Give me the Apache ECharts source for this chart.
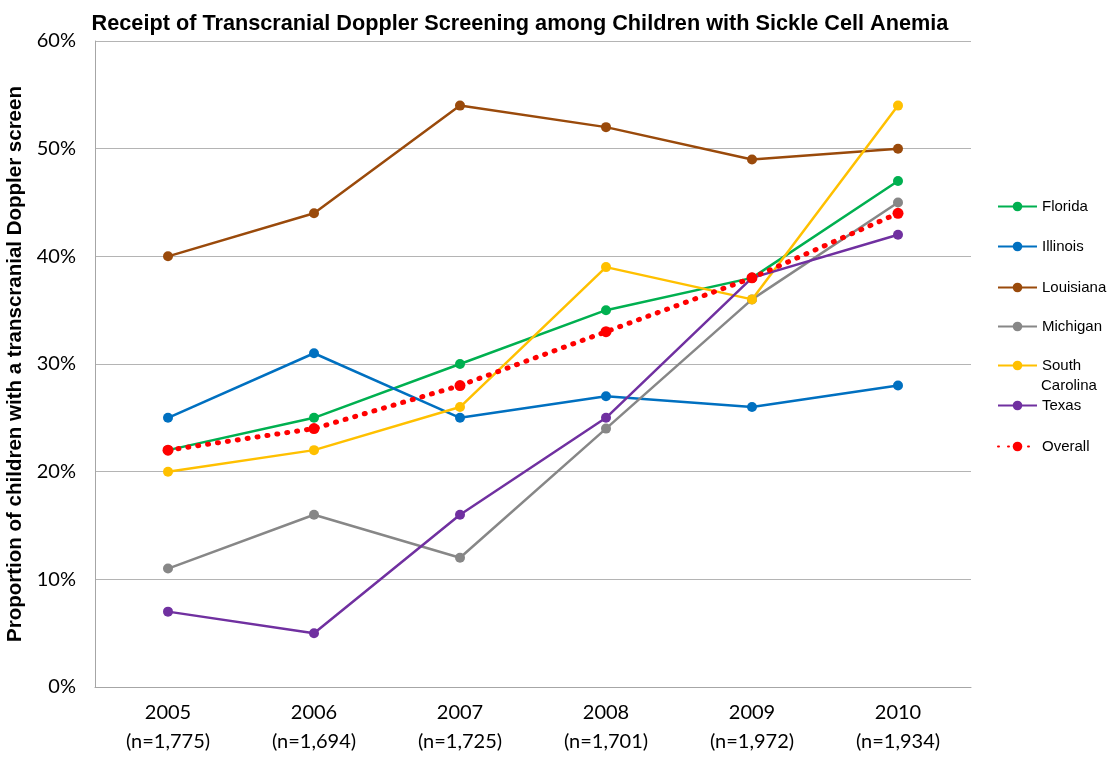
<!DOCTYPE html>
<html>
<head>
<meta charset="utf-8">
<script src="https://cdn.jsdelivr.net/npm/echarts@6/dist/echarts.min.js"></script>
<style>html,body{margin:0;padding:0;background:#fff}#c{width:1116px;height:758px}</style>
</head>
<body>
<div id="c"></div>
<script>
const years = ['2005', '2006', '2007', '2008', '2009', '2010'];
const sampleSizes = ['n=1,775', 'n=1,694', 'n=1,725', 'n=1,701', 'n=1,972', 'n=1,934'];
const florida = [22, 25, 30, 35, 38, 47];
const illinois = [25, 31, 25, 27, 26, 28];
const louisiana = [40, 44, 54, 52, 49, 50];
const michigan = [11, 16, 12, 24, 36, 45];
const southCarolina = [20, 22, 26, 39, 36, 54];
const texas = [7, 5, 16, 25, 38, 42];
const overall = [22, 24, 28, 33, 38, 44];

const categories = years.map((y, i) => y + '\n(' + sampleSizes[i] + ')');

const seriesDefs = [
  { name: 'Florida', data: florida, color: '#00B050' },
  { name: 'Illinois', data: illinois, color: '#0070C0' },
  { name: 'Louisiana', data: louisiana, color: '#9A4A0B' },
  { name: 'Michigan', data: michigan, color: '#878787' },
  { name: 'South Carolina', data: southCarolina, color: '#FFC000' },
  { name: 'Texas', data: texas, color: '#7030A0' },
  { name: 'Overall', data: overall, color: '#FF0000', dotted: true }
];
const legendCenters = [205, 245, 286, 325, 364, 404, 445];

const chart = echarts.init(document.getElementById('c'), null, { renderer: 'canvas' });

const legendFont = { fontFamily: 'Liberation Sans', fontSize: 15, color: '#000' };
const legends = seriesDefs.map((s, i) => {
  const lg = {
    orient: 'vertical',
    left: 997,
    top: legendCenters[i] - 6,
    padding: 0,
    itemWidth: 39,
    itemHeight: 12,
    data: [s.name],
    textStyle: legendFont
  };
  if (s.name === 'South Carolina') {
    lg.formatter = function (n) { return n.split(' ')[0]; };
  }
  return lg;
});

chart.setOption({
  animation: false,
  backgroundColor: '#fff',
  title: {
    text: 'Receipt of Transcranial Doppler Screening among Children with Sickle Cell Anemia',
    left: 515,
    textAlign: 'center',
    top: 8,
    textStyle: { fontFamily: 'Liberation Sans', fontWeight: 'bold', fontSize: 21.7, color: '#000' }
  },
  legend: legends,
  graphic: [{
    type: 'text',
    left: 1041,
    top: 378,
    style: { text: 'Carolina', font: '15px "Liberation Sans"', fill: '#000' }
  }],
  grid: { left: 95, right: 145, top: 41, bottom: 71, outerBoundsMode: 'none', containLabel: false },
  xAxis: {
    type: 'category',
    data: categories,
    boundaryGap: true,
    axisLine: { show: true, lineStyle: { color: '#A6A6A6', width: 1 } },
    axisTick: { show: false },
    axisLabel: {
      fontFamily: 'Lato',
      fontSize: 20,
      color: '#000',
      lineHeight: 29,
      margin: 11,
      interval: 0
    }
  },
  yAxis: {
    type: 'value',
    min: 0,
    max: 60,
    interval: 10,
    name: 'Proportion of children with a transcranial Doppler screen',
    nameLocation: 'middle',
    nameGap: 64,
    nameTextStyle: { fontFamily: 'Liberation Sans', fontWeight: 'bold', fontSize: 20.5, color: '#000' },
    axisLine: { show: true, lineStyle: { color: '#A6A6A6', width: 1 } },
    axisTick: { show: false },
    splitLine: { show: true, lineStyle: { color: '#B4B4B4', width: 1 } },
    axisLabel: {
      fontFamily: 'Lato',
      fontSize: 20,
      color: '#000',
      margin: 19,
      formatter: v => v + '%'
    }
  },
  series: seriesDefs.map((s, i) => ({
    name: s.name,
    type: 'line',
    data: s.data,
    symbol: 'circle',
    symbolSize: s.dotted ? 11 : 10,
    color: s.color,
    z: s.dotted ? 10 : 2 + i,
    lineStyle: s.dotted
      ? { color: s.color, width: 5, type: [1, 9], cap: 'round' }
      : { color: s.color, width: 2.5 },
    itemStyle: { color: s.color }
  }))
});
</script>
</body>
</html>
